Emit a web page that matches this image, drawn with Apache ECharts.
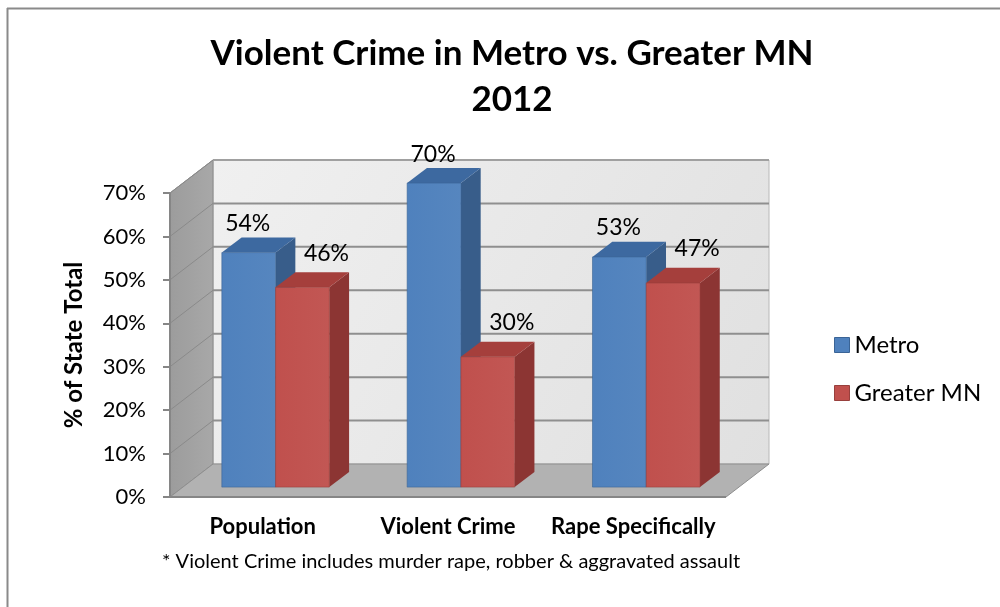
<!DOCTYPE html>
<html>
<head>
<meta charset="utf-8">
<script src="https://cdn.jsdelivr.net/npm/echarts@6/dist/echarts.min.js"></script>
<style>
html,body{margin:0;padding:0;background:#fff;}
#chart{width:1000px;height:607px;}
</style>
</head>
<body>
<div id="chart"></div>
<script>
var categories = ['Population', 'Violent Crime', 'Rape Specifically'];
var metroValues = [54, 70, 53];
var greaterValues = [46, 30, 47];
var yTicks = [0, 10, 20, 30, 40, 50, 60, 70];
var seriesNames = ['Metro', 'Greater MN'];
var footnote = '* Violent Crime includes murder rape, robber & aggravated assault';

var FONT = 'Lato, "Open Sans", sans-serif';
var DX = 43, DY = -33;          // full depth offset of the 3D box
var D0 = 0.30, D1 = 0.76;       // bar depth span (fraction of box depth)
var BARW = 0.29;                // bar width as fraction of band

var palette = {
  'Metro': {front: '#4f81bd', top: '#3d69a0', side: '#385d8a', border: '#3a6496'},
  'Greater MN': {front: '#c0504d', top: '#a53f3c', side: '#8c3533', border: '#98403d'}
};

function sceneRender(params, api) {
  var bw = api.size([1, 0])[0];
  var p0 = api.coord([0, 0]);
  var pTop = api.coord([0, yTicks[yTicks.length - 1]]);
  var pLast = api.coord([categories.length - 1, 0]);
  var xl = p0[0] - bw / 2, xr = pLast[0] + bw / 2;
  var yb = p0[1], yt = pTop[1];
  var ch = [];
  ch.push({type: 'rect', shape: {x: xl + DX, y: yt + DY, width: xr - xl, height: yb - yt},
    style: {fill: new echarts.graphic.LinearGradient(0, 0, 1, 1, [{offset: 0, color: '#f0f0f0'}, {offset: 1, color: '#e0e0e0'}]), stroke: '#b8b8b8', lineWidth: 1}});
  ch.push({type: 'polygon', shape: {points: [[xl, yb], [xl + DX, yb + DY], [xl + DX, yt + DY], [xl, yt]]},
    style: {fill: new echarts.graphic.LinearGradient(0, 0, 1, 0, [{offset: 0, color: '#9c9c9c'}, {offset: 1, color: '#a8a8a8'}]), stroke: '#8a8a8a', lineWidth: 1}});
  ch.push({type: 'polygon', shape: {points: [[xl, yb], [xl + DX, yb + DY], [xr + DX, yb + DY], [xr, yb]]},
    style: {fill: '#b2b2b2', stroke: '#8e8e8e', lineWidth: 1}});
  for (var i = 1; i < yTicks.length; i++) {
    var y = api.coord([0, yTicks[i]])[1];
    ch.push({type: 'line', shape: {x1: xl + DX, y1: y + DY, x2: xr + DX, y2: y + DY},
      style: {stroke: i < yTicks.length - 1 ? '#8f8f8f' : '#a0a0a0', lineWidth: 2}});
    ch.push({type: 'line', shape: {x1: xl, y1: y, x2: xl + DX, y2: y + DY},
      style: {stroke: '#8a8a8a', lineWidth: 1}});
  }
  ch.push({type: 'line', shape: {x1: xl, y1: yb, x2: xl, y2: yt}, style: {stroke: '#868686', lineWidth: 2}});
  ch.push({type: 'line', shape: {x1: xl, y1: yb, x2: xr, y2: yb}, style: {stroke: '#868686', lineWidth: 2}});
  return {type: 'group', children: ch};
}

function makeBarRender(name, sIndex) {
  var col = palette[name];
  return function (params, api) {
    var ci = api.value(0), v = api.value(1);
    var base = api.coord([ci, 0]);
    var topP = api.coord([ci, v]);
    var bw = api.size([1, 0])[0];
    var w = bw * BARW;
    var x0 = sIndex === 0 ? base[0] - w : base[0];
    var ox = D0 * DX, oy = D0 * DY, ox2 = D1 * DX, oy2 = D1 * DY;
    var yb = base[1], yt = topP[1];
    var fx = x0 + ox, fy = yt + oy;
    var ch = [];
    ch.push({type: 'polygon', shape: {points: [[fx + w, fy], [x0 + w + ox2, yt + oy2], [x0 + w + ox2, yb + oy2], [fx + w, yb + oy]]},
      style: {fill: col.side}});
    ch.push({type: 'polygon', shape: {points: [[fx, fy], [fx + w, fy], [x0 + w + ox2, yt + oy2], [x0 + ox2, yt + oy2]]},
      style: {fill: col.top}});
    ch.push({type: 'rect', shape: {x: fx, y: fy, width: w, height: yb - yt},
      style: {fill: new echarts.graphic.LinearGradient(0, 0, 1, 0, [{offset: 0, color: col.front}, {offset: 1, color: echarts.color.lift(col.front, 0.04)}]), stroke: col.border, lineWidth: 0.6}});
    var lx = sIndex === 0 ? fx + w / 2 - 1 : fx + w / 2 + 24;
    var ly = sIndex === 0 ? fy - 29 : fy - 34;
    ch.push({type: 'text', style: {text: v + '%', x: lx, y: ly, align: 'center', verticalAlign: 'middle',
      font: '23px ' + FONT, fill: '#000'}});
    return {type: 'group', children: ch};
  };
}

function toData(arr) { return arr.map(function (v, i) { return [i, v]; }); }

var chart = echarts.init(document.getElementById('chart'), null, {renderer: 'canvas'});
chart.setOption({
  animation: false,
  backgroundColor: '#fff',
  title: {
    text: 'Violent Crime in Metro vs. Greater MN\n2012',
    left: 507, top: 26, textAlign: 'center',
    textStyle: {fontFamily: FONT, fontWeight: 'bold', fontSize: 35, lineHeight: 46, color: '#000'}
  },
  legend: {
    orient: 'vertical', left: 829, top: 328,
    itemWidth: 15, itemHeight: 15, itemGap: 24,
    icon: 'rect',
    data: [
      {name: 'Metro', itemStyle: {color: palette['Metro'].front, borderColor: palette['Metro'].border, borderWidth: 1}},
      {name: 'Greater MN', itemStyle: {color: palette['Greater MN'].front, borderColor: palette['Greater MN'].border, borderWidth: 1}}
    ],
    textStyle: {fontFamily: FONT, fontSize: 24, lineHeight: 24, color: '#000'}
  },
  grid: {left: 170, right: 274, top: 193, bottom: 110, containLabel: false},
  xAxis: {
    type: 'category', data: categories,
    axisLine: {show: false}, axisTick: {show: false},
    axisLabel: {interval: 0, hideOverlap: false, fontFamily: FONT, fontWeight: 'bold', fontSize: 22, color: '#000', margin: 19}
  },
  yAxis: {
    type: 'value', min: 0, max: 70, interval: 10,
    name: '% of State Total', nameLocation: 'middle', nameRotate: 90, nameGap: 84,
    nameTextStyle: {fontFamily: FONT, fontWeight: 'bold', fontSize: 24, color: '#000'},
    axisLine: {show: false},
    axisTick: {show: true, inside: false, length: 7, lineStyle: {color: '#868686', width: 2}},
    splitLine: {show: false},
    axisLabel: {formatter: '{value}%', fontFamily: FONT, fontSize: 22, color: '#000', margin: 24}
  },
  graphic: [
    {type: 'text', left: 162, top: 552, style: {text: footnote, font: '20px ' + FONT, fill: '#000'}},
    {type: 'line', shape: {x1: 7, y1: 8.5, x2: 1000, y2: 8.5}, style: {stroke: '#8a8a8a', lineWidth: 2}},
    {type: 'line', shape: {x1: 7.5, y1: 8, x2: 7.5, y2: 607}, style: {stroke: '#8a8a8a', lineWidth: 2}}
  ],
  series: [
    {type: 'custom', name: '_scene', data: [[0, 0]], renderItem: sceneRender, silent: true, z: 1},
    {type: 'custom', name: seriesNames[0], data: toData(metroValues), renderItem: makeBarRender(seriesNames[0], 0), itemStyle: {color: palette['Metro'].front}, z: 2},
    {type: 'custom', name: seriesNames[1], data: toData(greaterValues), renderItem: makeBarRender(seriesNames[1], 1), itemStyle: {color: palette['Greater MN'].front}, z: 3}
  ]
});
</script>
</body>
</html>
